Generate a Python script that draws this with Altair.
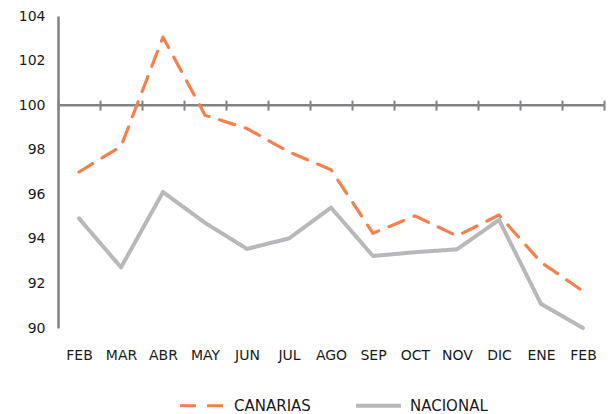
import altair as alt
import pandas as pd

months = ["FEB", "MAR", "ABR", "MAY", "JUN", "JUL", "AGO", "SEP", "OCT", "NOV", "DIC", "ENE", "FEB"]
canarias = [97.0, 98.15, 103.05, 99.55, 98.95, 97.9, 97.1, 94.25, 95.03, 94.13, 95.07, 92.95, 91.65]
nacional = [94.92, 92.72, 96.1, 94.72, 93.55, 94.02, 95.4, 93.23, 93.4, 93.53, 94.85, 91.08, 90.0]
series = ["CANARIAS", "NACIONAL"]
colors = ["#F5804F", "#B7B8BB"]
dashes = [[16, 11], [1, 0]]
y_ticks = [90, 92, 94, 96, 98, 100, 102, 104]

rows = []
for i, m in enumerate(months):
    rows.append({"idx": i, "serie": "CANARIAS", "valor": canarias[i]})
    rows.append({"idx": i, "serie": "NACIONAL", "valor": nacional[i]})
df = pd.DataFrame(rows)

W, H = 546, 312
FONT = "DejaVu Sans"
AXIS_GRAY = "#808285"
ymin, ymax = 90, 104
line_pos = H * (ymax - 100) / (ymax - ymin)

label_expr = "[" + ",".join("'%s'" % m for m in months) + "][datum.value]"

x_enc = alt.X(
    "idx:O",
    scale=alt.Scale(type="band", paddingInner=0, paddingOuter=0),
    axis=alt.Axis(
        title=None,
        labelExpr=label_expr,
        labelAngle=0,
        domain=False,
        ticks=True,
        tickBand="extent",
        tickSize=10,
        tickColor=AXIS_GRAY,
        tickWidth=2,
        offset=-(H - line_pos + 5),
        labelPadding=H - line_pos - 5 + 20,
        labelFont=FONT,
        labelFontSize=14,
        labelColor="#1a1a1a",
        grid=False,
    ),
)

y_enc = alt.Y(
    "valor:Q",
    scale=alt.Scale(domain=[ymin, ymax], nice=False, zero=False),
    axis=alt.Axis(
        title=None,
        values=y_ticks,
        grid=False,
        ticks=False,
        domain=True,
        domainColor=AXIS_GRAY,
        domainWidth=2.5,
        labelPadding=13,
        labelFont=FONT,
        labelFontSize=14,
        labelColor="#1a1a1a",
    ),
)

legend = alt.Legend(
    title=None,
    orient="none",
    direction="horizontal",
    legendX=120,
    legendY=365,
    symbolType="stroke",
    symbolSize=2025,
    symbolStrokeWidth=3,
    labelFont=FONT,
    labelFontSize=15,
    labelColor="#1a1a1a",
    labelOffset=7,
    columnPadding=37,
    padding=0,
)

lines = alt.Chart(df).mark_line(strokeCap="round", strokeJoin="round").encode(
    x=x_enc,
    y=y_enc,
    color=alt.Color("serie:N", scale=alt.Scale(domain=series, range=colors), legend=legend),
    strokeDash=alt.StrokeDash("serie:N", scale=alt.Scale(domain=series, range=dashes), legend=legend),
    strokeWidth=alt.StrokeWidth("serie:N", scale=alt.Scale(domain=series, range=[3.2, 4]), legend=None),
    order=alt.Order("idx:O"),
)

rule = alt.Chart(pd.DataFrame({"v": [100]})).mark_rule(color=AXIS_GRAY, strokeWidth=2.5).encode(
    y=alt.Y("v:Q", scale=alt.Scale(domain=[ymin, ymax], nice=False, zero=False))
)

chart = alt.layer(rule, lines).properties(
    width=W,
    height=H,
    autosize=alt.AutoSizeParams(type="none"),
    padding={"left": 50, "top": 8, "right": 2, "bottom": 86},
).configure_view(stroke=None)

chart.save("out.html", embed_options={"renderer": "svg", "actions": False})
